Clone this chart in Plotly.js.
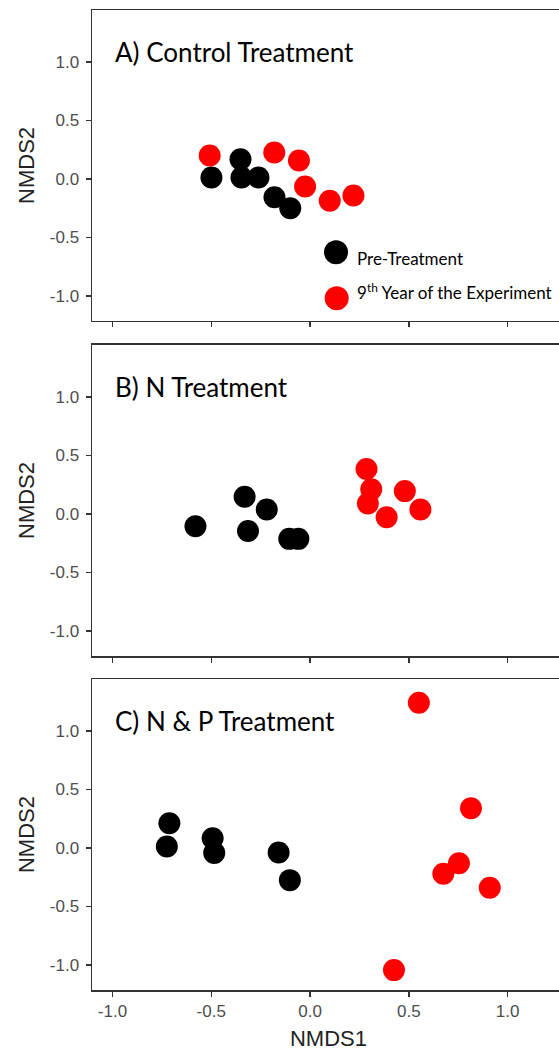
<!DOCTYPE html>
<html>
<head>
<meta charset="utf-8">
<script src="https://cdn.plot.ly/plotly-3.0.1.min.js"></script>
<style>
  html, body { margin: 0; padding: 0; overflow: hidden; background: #fff; }
  #chart { width: 575px; height: 1052px; }
</style>
</head>
<body>
<div id="chart"></div>
<script>
// ---- Data ----
const panelTitles = ["A) Control Treatment", "B) N Treatment", "C) N & P Treatment"];
const groupNames = ["Pre-Treatment", "9<sup>th</sup> Year of the Experiment"];
const xTickVals = [-1.0, -0.5, 0.0, 0.5, 1.0];
const xTickText = ["-1.0", "-0.5", "0.0", "0.5", "1.0"];
const yTickVals = [-1.0, -0.5, 0.0, 0.5, 1.0];
const yTickText = ["-1.0", "-0.5", "0.0", "0.5", "1.0"];

// Panel A: Control
const controlPreX  = [-0.499, -0.352, -0.347, -0.261, -0.180, -0.100];
const controlPreY  = [ 0.011,  0.168,  0.011,  0.011, -0.157, -0.251];
const controlPostX = [-0.508, -0.181, -0.056, -0.025,  0.100,  0.220];
const controlPostY = [ 0.199,  0.225,  0.157, -0.066, -0.188, -0.142];

// Panel B: N
const nPreX  = [-0.580, -0.331, -0.219, -0.314, -0.105, -0.059];
const nPreY  = [-0.106,  0.146,  0.037, -0.146, -0.214, -0.214];
const nPostX = [ 0.286,  0.310,  0.293,  0.388,  0.480,  0.559];
const nPostY = [ 0.383,  0.209,  0.089, -0.029,  0.194,  0.037];

// Panel C: N & P
const npPreX  = [-0.712, -0.725, -0.493, -0.485, -0.159, -0.102];
const npPreY  = [ 0.210,  0.011,  0.082, -0.043, -0.040, -0.276];
const npPostX = [ 0.551,  0.815,  0.754,  0.675,  0.910,  0.425];
const npPostY = [ 1.241,  0.338, -0.131, -0.222, -0.341, -1.045];

// ---- Styles ----
const preColor = "#000000";
const postColor = "#ff0000";
const markerSize = 22;
const lineColor = "#333333";
const tickFont = { family: "Liberation Sans, Arial, sans-serif", size: 17, color: "#4d4d4d" };
const axisTitleFont = { family: "Liberation Sans, Arial, sans-serif", size: 22, color: "#222222" };
const panelTitleFont = { family: "Lato, Carlito, Calibri, sans-serif", size: 26, color: "#000000" };
const legendFont = { family: "Lato, Carlito, Calibri, sans-serif", size: 17, color: "#000000" };

const panels = [
  { pre: [controlPreX, controlPreY], post: [controlPostX, controlPostY], xa: "x",  ya: "y"  },
  { pre: [nPreX, nPreY],             post: [nPostX, nPostY],             xa: "x2", ya: "y2" },
  { pre: [npPreX, npPreY],           post: [npPostX, npPostY],           xa: "x3", ya: "y3" }
];

const traces = [];
panels.forEach(p => {
  traces.push({
    type: "scatter", mode: "markers", name: groupNames[0],
    x: p.pre[0], y: p.pre[1], xaxis: p.xa, yaxis: p.ya,
    marker: { color: preColor, size: markerSize, line: { width: 0 } },
    showlegend: false, hoverinfo: "x+y"
  });
  traces.push({
    type: "scatter", mode: "markers", name: groupNames[1],
    x: p.post[0], y: p.post[1], xaxis: p.xa, yaxis: p.ya,
    marker: { color: postColor, size: markerSize, line: { width: 0 } },
    showlegend: false, hoverinfo: "x+y"
  });
});

const xRange = [-1.1038, 1.291];
const yRange = [-1.215, 1.443];
const domains = [[0.6827, 1.0], [0.3408, 0.6582], [0.0, 0.3173]];

function xAxis(i, showLabels) {
  const ax = {
    domain: [0, 1], range: xRange, anchor: i === 0 ? "y" : "y" + (i + 1),
    showline: true, mirror: true, linecolor: lineColor, linewidth: 1.5,
    ticks: "outside", ticklen: 5, tickwidth: 1.5, tickcolor: lineColor,
    tickmode: "array", tickvals: xTickVals, ticktext: xTickText,
    showticklabels: showLabels, tickfont: tickFont,
    showgrid: false, zeroline: false, fixedrange: true
  };
  if (i > 0) ax.matches = "x";
  if (showLabels) ax.title = { text: "NMDS1", font: axisTitleFont, standoff: 10 };
  return ax;
}
function yAxis(i) {
  return {
    domain: domains[i], range: yRange, anchor: i === 0 ? "x" : "x" + (i + 1),
    showline: true, mirror: true, linecolor: lineColor, linewidth: 1.5,
    ticks: "outside", ticklen: 5, tickwidth: 1.5, tickcolor: lineColor,
    tickmode: "array", tickvals: yTickVals, ticktext: yTickText,
    tickfont: tickFont, ticklabelstandoff: 3,
    title: { text: "NMDS2", font: axisTitleFont, standoff: 9 },
    showgrid: false, zeroline: false, fixedrange: true
  };
}

const annotations = panelTitles.map((t, i) => ({
  text: t, showarrow: false,
  xref: (i === 0 ? "x" : "x" + (i + 1)) + " domain",
  yref: (i === 0 ? "y" : "y" + (i + 1)) + " domain",
  x: 0.044, y: 0.864, xanchor: "left", yanchor: "middle",
  font: panelTitleFont
}));
// legend text (panel A)
annotations.push({
  text: groupNames[0], showarrow: false, xref: "x domain", yref: "y domain",
  x: 0.5560, y: 0.2003, xanchor: "left", yanchor: "middle", font: legendFont
});
annotations.push({
  text: groupNames[1], showarrow: false, xref: "x domain", yref: "y domain",
  x: 0.5560, y: 0.0962, xanchor: "left", yanchor: "middle", font: legendFont
});

// legend symbols (panel A)
const rX = 12 / 473, rY = 12 / 311;
const legendSymbols = [
  { cx: 0.5159, cy: 0.2209, color: preColor },
  { cx: 0.5173, cy: 0.0730, color: postColor }
];
const shapes = legendSymbols.map(s => ({
  type: "circle", xref: "x domain", yref: "y domain",
  x0: s.cx - rX, x1: s.cx + rX, y0: s.cy - rY, y1: s.cy + rY,
  fillcolor: s.color, line: { width: 0 }
}));

const layout = {
  width: 575, height: 1052,
  margin: { l: 92, r: 10, t: 10, b: 62 },
  paper_bgcolor: "#ffffff", plot_bgcolor: "#ffffff",
  showlegend: false,
  xaxis: xAxis(0, false), xaxis2: xAxis(1, false), xaxis3: xAxis(2, true),
  yaxis: yAxis(0), yaxis2: yAxis(1), yaxis3: yAxis(2),
  annotations: annotations, shapes: shapes
};

Plotly.newPlot("chart", traces, layout, { displayModeBar: false, staticPlot: true });
</script>
</body>
</html>
